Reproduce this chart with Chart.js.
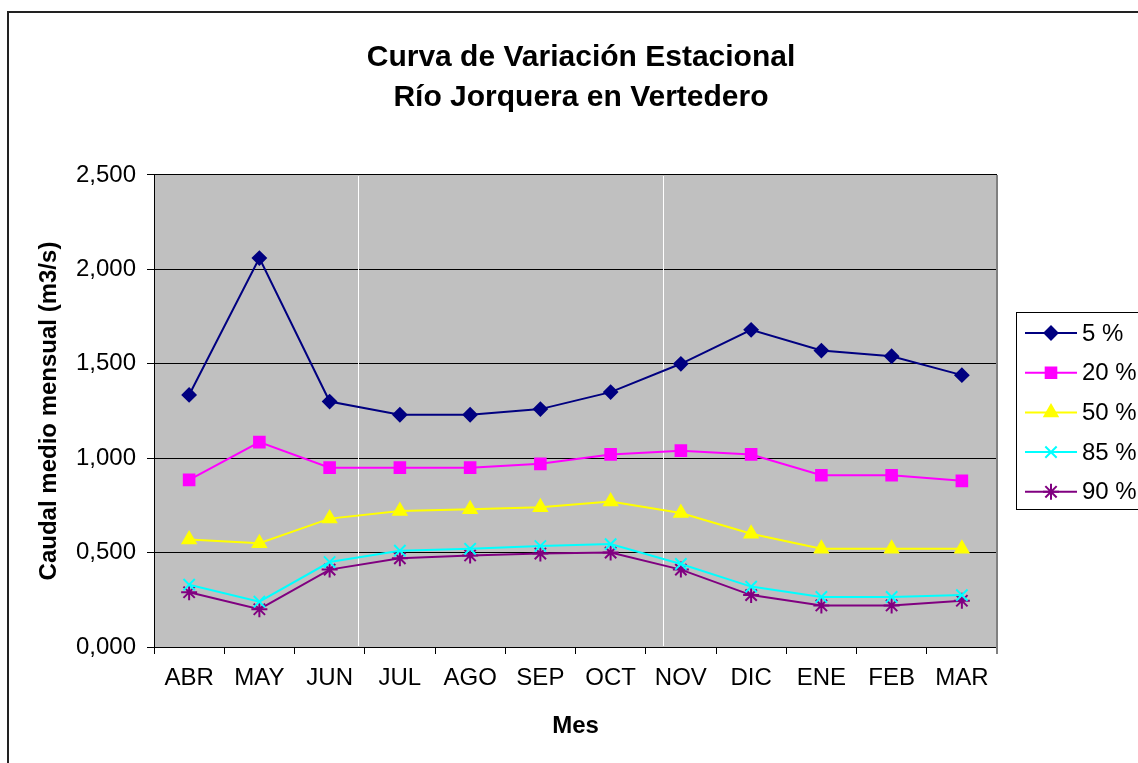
<!DOCTYPE html>
<html lang="es">
<head>
<meta charset="UTF-8">
<title>Curva de Variación Estacional - Río Jorquera en Vertedero</title>
<script src="https://cdn.jsdelivr.net/npm/chart.js"></script>
<style>
    body { margin: 0; background: #fff; }
    canvas { display: block; }
</style>
</head>
<body>
<canvas id="grafico" width="1138" height="763"></canvas>
<script>
    // datos
    const meses = ["ABR", "MAY", "JUN", "JUL", "AGO", "SEP", "OCT", "NOV", "DIC", "ENE", "FEB", "MAR"];
    const serie5  = [1.335, 2.06, 1.30, 1.23, 1.23, 1.26, 1.35, 1.50, 1.68, 1.57, 1.54, 1.44];
    const serie20 = [0.885, 1.085, 0.95, 0.95, 0.95, 0.97, 1.02, 1.04, 1.02, 0.91, 0.91, 0.88];
    const serie50 = [0.57, 0.55, 0.68, 0.72, 0.73, 0.74, 0.77, 0.71, 0.60, 0.52, 0.52, 0.52];
    const serie85 = [0.33, 0.24, 0.45, 0.51, 0.52, 0.535, 0.545, 0.44, 0.32, 0.265, 0.265, 0.275];
    const serie90 = [0.29, 0.20, 0.41, 0.47, 0.485, 0.495, 0.50, 0.41, 0.275, 0.22, 0.22, 0.245];
    const etiquetasY = ["0,000", "0,500", "1,000", "1,500", "2,000", "2,500"];
    const lineasBlancas = [2.4, 6.74]; // lineas claras verticales del original (en indice de categoria)

    const fuente = '"Liberation Sans", Arial, sans-serif';

    function serie(label, data, color, estilo, radio) {
        return {
            label: label,
            data: data,
            borderColor: color,
            backgroundColor: color,
            borderWidth: 2,
            pointStyle: estilo,
            pointRadius: radio,
            pointHoverRadius: radio,
            pointBorderWidth: 2,
            tension: 0
        };
    }

    const fondoYMarco = {
        id: 'fondoYMarco',
        beforeDraw(chart) {
            const { ctx, chartArea: a } = chart;
            ctx.save();
            ctx.fillStyle = '#fff';
            ctx.fillRect(0, 0, chart.width, chart.height);
            ctx.strokeStyle = '#222';
            ctx.lineWidth = 2;
            ctx.strokeRect(8, 12, chart.width + 50, chart.height + 50);
            ctx.fillStyle = '#c0c0c0';
            ctx.fillRect(a.left, a.top, a.right - a.left, a.bottom - a.top);
            ctx.restore();
        },
        beforeDatasetsDraw(chart) {
            const { ctx, chartArea: a, scales } = chart;
            ctx.save();
            ctx.strokeStyle = '#fff';
            ctx.lineWidth = 1;
            lineasBlancas.forEach(v => {
                const x = Math.round(scales.x.getPixelForValue(v)) + 0.5;
                ctx.beginPath();
                ctx.moveTo(x, a.top + 1);
                ctx.lineTo(x, a.bottom - 1);
                ctx.stroke();
            });
            ctx.strokeStyle = '#808080';
            ctx.lineWidth = 2;
            ctx.beginPath();
            ctx.moveTo(a.right, a.top);
            ctx.lineTo(a.right, a.bottom + 7);
            ctx.stroke();
            ctx.restore();
        }
    };

    const leyendaExcel = {
        id: 'leyendaExcel',
        afterDraw(chart) {
            const ctx = chart.ctx;
            const x0 = Math.round(chart.chartArea.right) + 19;
            const y0 = 312;
            ctx.save();
            ctx.fillStyle = '#fff';
            ctx.fillRect(x0, y0, 200, 197);
            ctx.strokeStyle = '#000';
            ctx.lineWidth = 1;
            ctx.strokeRect(x0 + 0.5, y0 + 0.5, 200, 197);
            chart.data.datasets.forEach((ds, i) => {
                const y = y0 + 21 + i * 39.7;
                ctx.strokeStyle = ds.borderColor;
                ctx.fillStyle = ds.backgroundColor;
                ctx.lineWidth = 2;
                ctx.beginPath();
                ctx.moveTo(x0 + 9, y);
                ctx.lineTo(x0 + 61, y);
                ctx.stroke();
                Chart.helpers.drawPoint(ctx, {
                    pointStyle: ds.pointStyle,
                    radius: ds.pointRadius,
                    borderWidth: ds.pointBorderWidth,
                    rotation: 0
                }, x0 + 35, y);
                ctx.fillStyle = '#000';
                ctx.font = '24px ' + fuente;
                ctx.textBaseline = 'middle';
                ctx.textAlign = 'left';
                ctx.fillText(ds.label, x0 + 66, y + 1);
            });
            ctx.restore();
        }
    };

    const ctx = document.getElementById('grafico').getContext('2d');
    new Chart(ctx, {
        type: 'line',
        data: {
            labels: meses,
            datasets: [
                serie('5 %', serie5, '#000080', 'rectRot', 6.5),
                serie('20 %', serie20, '#ff00ff', 'rect', 7.5),
                serie('50 %', serie50, '#ffff00', 'triangle', 7.5),
                serie('85 %', serie85, '#00ffff', 'crossRot', 8),
                serie('90 %', serie90, '#800080', 'star', 8)
            ]
        },
        options: {
            responsive: false,
            animation: false,
            layout: { padding: { left: 24, right: 0, top: 0, bottom: 0 } },
            plugins: {
                legend: { display: false },
                tooltip: { enabled: false },
                title: {
                    display: true,
                    text: ['Curva de Variación Estacional', 'Río Jorquera en Vertedero'],
                    color: '#000',
                    font: { family: fuente, size: 30, weight: 'bold', lineHeight: 1.3333 },
                    padding: { top: 38, bottom: 57 }
                }
            },
            scales: {
                x: {
                    offset: true,
                    afterFit: s => { s.height = 116; },
                    grid: {
                        offset: true,
                        drawOnChartArea: false,
                        drawTicks: true,
                        tickLength: 7,
                        color: '#000'
                    },
                    border: { color: '#000', width: 1 },
                    ticks: {
                        color: '#000',
                        padding: 10,
                        maxRotation: 0,
                        autoSkip: false,
                        font: { family: fuente, size: 24 }
                    },
                    title: {
                        display: true,
                        text: 'Mes',
                        color: '#000',
                        font: { family: fuente, size: 24, weight: 'bold' },
                        padding: { top: 0, bottom: 22 }
                    }
                },
                y: {
                    min: 0,
                    max: 2.5,
                    afterFit: s => { s.width = 130; },
                    grid: { color: '#000', tickLength: 7 },
                    border: { color: '#000', width: 1 },
                    ticks: {
                        stepSize: 0.5,
                        color: '#000',
                        padding: 11,
                        font: { family: fuente, size: 24 },
                        callback: (v, i) => etiquetasY[i]
                    },
                    title: {
                        display: true,
                        text: 'Caudal medio mensual (m3/s)',
                        color: '#000',
                        font: { family: fuente, size: 24, weight: 'bold' },
                        padding: { top: 11, bottom: 0 }
                    }
                },
                derecha: {
                    position: 'right',
                    display: true,
                    afterFit: s => { s.width = 141; },
                    grid: { display: false, drawTicks: false },
                    border: { display: false },
                    ticks: { display: false }
                }
            }
        },
        plugins: [fondoYMarco, leyendaExcel]
    });
</script>
</body>
</html>
